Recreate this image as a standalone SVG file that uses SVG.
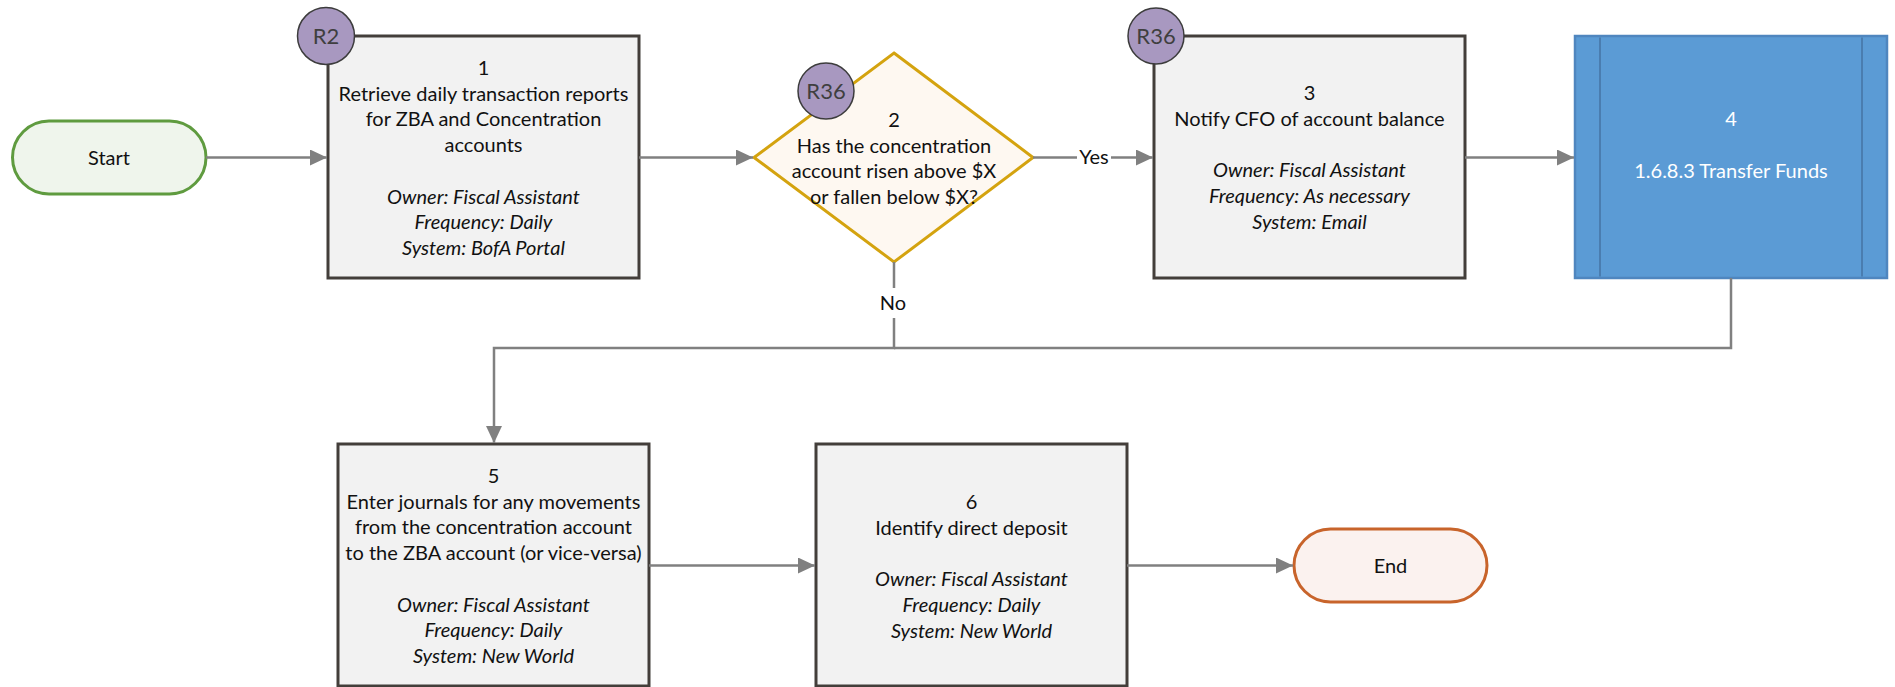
<svg xmlns="http://www.w3.org/2000/svg" width="1895" height="687" viewBox="0 0 1895 687">
  <defs>
    <marker id="arrow" markerUnits="userSpaceOnUse" markerWidth="17" markerHeight="16" refX="17" refY="8" orient="auto">
      <path d="M0,0 L17,8 L0,16 Z" fill="#808080"/>
    </marker>
    <style>
      text { font-family: Lato, "Liberation Sans", sans-serif; font-size: 20px; fill: #111; text-anchor: middle; }
      .it { font-style: italic; }
      .box { fill: #f2f2f2; stroke: #433e3a; stroke-width: 3; }
      .ref { fill: #a898c0; stroke: #3c3c3c; stroke-width: 1.5; }
      .reft { font-size: 22px; fill: #3f3f3f; }
      .conn { fill: none; stroke: #808080; stroke-width: 2.5; }
      .lbl-bg { fill: #ffffff; }
      .sub { fill: #5b9bd5; stroke: #4f86bf; stroke-width: 2.5; }
      .subline { stroke: #4a7db0; stroke-width: 2; }
      .white { fill: #ffffff; }
    </style>
  </defs>

  <!-- Start terminator -->
  <g id="start">
    <rect x="12.5" y="121" width="193.5" height="73" rx="36.5" ry="36.5" fill="#eff5ec" stroke="#5f9b3f" stroke-width="3"/>
    <text x="109" y="164.5">Start</text>
  </g>

  <!-- Step 1 -->
  <g id="step1">
    <rect class="box" x="328" y="36" width="311" height="242"/>
    <text x="483.5" y="75">1</text>
    <text x="483.5" y="100.7">Retrieve daily transaction reports</text>
    <text x="483.5" y="126.4">for ZBA and Concentration</text>
    <text x="483.5" y="152.1">accounts</text>
    <text class="it" x="483.5" y="203.5">Owner: Fiscal Assistant</text>
    <text class="it" x="483.5" y="229.2">Frequency: Daily</text>
    <text class="it" x="483.5" y="254.9">System: BofA Portal</text>
    <circle class="ref" cx="326" cy="36" r="28.5"/>
    <text class="reft" x="326" y="44">R2</text>
  </g>

  <!-- Step 2 decision -->
  <g id="step2">
    <polygon points="894,53 1033,157.5 894,262 754,157.5" fill="#fef8f1" stroke="#d4a30f" stroke-width="3"/>
    <text x="894" y="127">2</text>
    <text x="894" y="152.7">Has the concentration</text>
    <text x="894" y="178.4">account risen above $X</text>
    <text x="894" y="204.1">or fallen below $X?</text>
    <circle class="ref" cx="826" cy="91" r="28"/>
    <text class="reft" x="826" y="99">R36</text>
  </g>

  <!-- Step 3 -->
  <g id="step3">
    <rect class="box" x="1154" y="36" width="311" height="242"/>
    <text x="1309.5" y="100">3</text>
    <text x="1309.5" y="125.7">Notify CFO of account balance</text>
    <text class="it" x="1309.5" y="177.1">Owner: Fiscal Assistant</text>
    <text class="it" x="1309.5" y="202.8">Frequency: As necessary</text>
    <text class="it" x="1309.5" y="228.5">System: Email</text>
    <circle class="ref" cx="1156" cy="36" r="28"/>
    <text class="reft" x="1156" y="44">R36</text>
  </g>

  <!-- Step 4 subprocess -->
  <g id="step4">
    <rect class="sub" x="1575" y="36" width="312" height="242"/>
    <line class="subline" x1="1600" y1="37.5" x2="1600" y2="276.5"/>
    <line class="subline" x1="1862" y1="37.5" x2="1862" y2="276.5"/>
    <text class="white" x="1731" y="126">4</text>
    <text class="white" x="1731" y="178">1.6.8.3 Transfer Funds</text>
  </g>

  <!-- Step 5 -->
  <g id="step5">
    <rect class="box" x="338" y="444" width="311" height="242"/>
    <text x="493.5" y="483">5</text>
    <text x="493.5" y="508.7">Enter journals for any movements</text>
    <text x="493.5" y="534.4">from the concentration account</text>
    <text x="493.5" y="560.1">to the ZBA account (or vice-versa)</text>
    <text class="it" x="493.5" y="611.5">Owner: Fiscal Assistant</text>
    <text class="it" x="493.5" y="637.2">Frequency: Daily</text>
    <text class="it" x="493.5" y="662.9">System: New World</text>
  </g>

  <!-- Step 6 -->
  <g id="step6">
    <rect class="box" x="816" y="444" width="311" height="242"/>
    <text x="971.5" y="509">6</text>
    <text x="971.5" y="534.7">Identify direct deposit</text>
    <text class="it" x="971.5" y="586.1">Owner: Fiscal Assistant</text>
    <text class="it" x="971.5" y="611.8">Frequency: Daily</text>
    <text class="it" x="971.5" y="637.5">System: New World</text>
  </g>

  <!-- End terminator -->
  <g id="end">
    <rect x="1294" y="529" width="193" height="73" rx="36.5" ry="36.5" fill="#fbf2ef" stroke="#c8642b" stroke-width="3"/>
    <text x="1390.5" y="572.5">End</text>
  </g>

  <!-- Connectors -->
  <g id="connectors">
    <path class="conn" d="M206,157.5 H327" marker-end="url(#arrow)"/>
    <path class="conn" d="M639,157.5 H753" marker-end="url(#arrow)"/>
    <path class="conn" d="M1033,157.5 H1153" marker-end="url(#arrow)"/>
    <path class="conn" d="M1465,157.5 H1574" marker-end="url(#arrow)"/>
    <path class="conn" d="M894,262 V348 H494 V443" marker-end="url(#arrow)"/>
    <path class="conn" d="M1731,278 V348 H894"/>
    <path class="conn" d="M649,565.5 H815" marker-end="url(#arrow)"/>
    <path class="conn" d="M1127,565.5 H1293" marker-end="url(#arrow)"/>
    <rect class="lbl-bg" x="1077" y="147" width="34" height="20"/>
    <text x="1094" y="164">Yes</text>
    <rect class="lbl-bg" x="878" y="288" width="30" height="30"/>
    <text x="893" y="310">No</text>
  </g>
</svg>
